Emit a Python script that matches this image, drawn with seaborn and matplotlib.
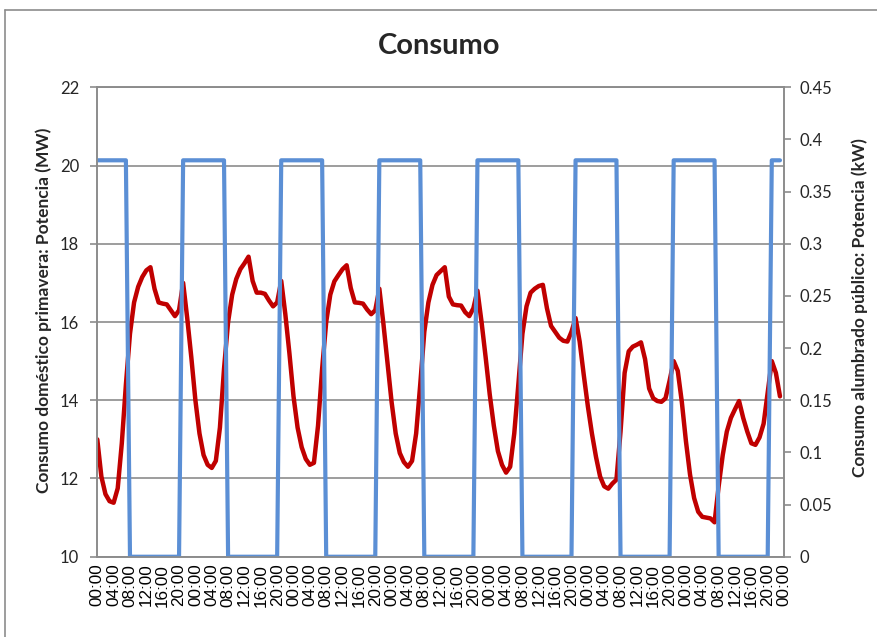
import numpy as np
import seaborn as sns
import matplotlib.pyplot as plt
from matplotlib.ticker import FuncFormatter, MultipleLocator
from matplotlib.lines import Line2D

# hourly data, 7 days (0..167)
horas = list(range(168))

# Consumo doméstico primavera (MW)
domestico = [
    13.0, 12.05, 11.6, 11.42, 11.38, 11.75, 12.9, 14.4, 15.7, 16.5, 16.9, 17.15,
    17.32, 17.4, 16.85, 16.5, 16.47, 16.45, 16.3, 16.15, 16.3, 17.0, 16.1, 15.1,
    14.0, 13.15, 12.6, 12.35, 12.27, 12.45, 13.3, 14.8, 16.0, 16.7, 17.1, 17.35,
    17.5, 17.67, 17.05, 16.75, 16.75, 16.72, 16.55, 16.4, 16.5, 17.05, 16.2, 15.2,
    14.1, 13.3, 12.8, 12.5, 12.35, 12.4, 13.35, 14.8, 16.0, 16.7, 17.04, 17.2,
    17.35, 17.45, 16.87, 16.5, 16.49, 16.47, 16.32, 16.2, 16.3, 16.85, 15.95, 14.95,
    13.95, 13.15, 12.65, 12.42, 12.3, 12.45, 13.15, 14.4, 15.75, 16.5, 16.95, 17.2,
    17.3, 17.4, 16.65, 16.45, 16.43, 16.42, 16.25, 16.15, 16.35, 16.8, 16.0, 15.1,
    14.15, 13.35, 12.7, 12.35, 12.15, 12.3, 13.15, 14.4, 15.7, 16.4, 16.75, 16.85,
    16.92, 16.95, 16.35, 15.9, 15.75, 15.6, 15.52, 15.5, 15.75, 16.1, 15.5, 14.65,
    13.85, 13.15, 12.55, 12.05, 11.8, 11.74, 11.87, 11.97, 13.2, 14.7, 15.25, 15.37,
    15.42, 15.48, 15.05, 14.3, 14.05, 13.98, 13.96, 14.05, 14.5, 15.0, 14.75, 13.95,
    12.95, 12.1, 11.5, 11.15, 11.02, 11.0, 10.98, 10.88, 11.8, 12.6, 13.2, 13.55,
    13.77, 13.98, 13.55, 13.2, 12.9, 12.86, 13.05, 13.4, 14.2, 15.0, 14.7, 14.1,
]

# Consumo alumbrado público (kW)
alumbrado = [
    0.38, 0.38, 0.38, 0.38, 0.38, 0.38, 0.38, 0.38, 0, 0, 0, 0, 0, 0, 0, 0, 0, 0, 0, 0, 0, 0.38, 0.38, 0.38,
    0.38, 0.38, 0.38, 0.38, 0.38, 0.38, 0.38, 0.38, 0, 0, 0, 0, 0, 0, 0, 0, 0, 0, 0, 0, 0, 0.38, 0.38, 0.38,
    0.38, 0.38, 0.38, 0.38, 0.38, 0.38, 0.38, 0.38, 0, 0, 0, 0, 0, 0, 0, 0, 0, 0, 0, 0, 0, 0.38, 0.38, 0.38,
    0.38, 0.38, 0.38, 0.38, 0.38, 0.38, 0.38, 0.38, 0, 0, 0, 0, 0, 0, 0, 0, 0, 0, 0, 0, 0, 0.38, 0.38, 0.38,
    0.38, 0.38, 0.38, 0.38, 0.38, 0.38, 0.38, 0.38, 0, 0, 0, 0, 0, 0, 0, 0, 0, 0, 0, 0, 0, 0.38, 0.38, 0.38,
    0.38, 0.38, 0.38, 0.38, 0.38, 0.38, 0.38, 0.38, 0, 0, 0, 0, 0, 0, 0, 0, 0, 0, 0, 0, 0, 0.38, 0.38, 0.38,
    0.38, 0.38, 0.38, 0.38, 0.38, 0.38, 0.38, 0.38, 0, 0, 0, 0, 0, 0, 0, 0, 0, 0, 0, 0, 0, 0.38, 0.38, 0.38,
]

horas_dia = ['00:00', '04:00', '08:00', '12:00', '16:00', '20:00']
etiquetas = horas_dia * 7 + ['00:00']

sns.set_style('white')
plt.rcParams['font.family'] = ['Lato', 'DejaVu Sans']

gris = '#8c8c8c'
rojo = '#C00000'
azul = '#5B8FD5'

fig = plt.figure(figsize=(8.78, 6.37), dpi=100)
ax = fig.add_axes([0.1108, 0.126, 0.7822, 0.737])

sns.lineplot(x=horas, y=domestico, ax=ax, color=rojo, linewidth=3.2,
             solid_joinstyle='round', solid_capstyle='round')
ax2 = ax.twinx()
sns.lineplot(x=horas, y=alumbrado, ax=ax2, color=azul, linewidth=3,
             solid_joinstyle='round', solid_capstyle='round')

ax.set_xlim(0, 168)
ax.set_ylim(10, 22)
ax.set_yticks(range(10, 23, 2))
ax2.set_ylim(0, 0.45)
ax2.yaxis.set_major_locator(MultipleLocator(0.05))
ax2.yaxis.set_major_formatter(FuncFormatter(lambda v, p: '{:g}'.format(round(v, 2))))

ax.set_xticks(range(0, 169, 4))
ax.set_xticklabels(etiquetas, rotation=90, fontsize=12.3,
                   family=['Liberation Sans', 'DejaVu Sans'])

ax.yaxis.grid(True, color=gris, linewidth=1.2)
ax.xaxis.grid(False)
for a in (ax, ax2):
    for s in a.spines.values():
        s.set_color(gris)
        s.set_linewidth(1.2)
ax.tick_params(axis='x', length=0, pad=5, colors='black')
ax.tick_params(axis='y', length=5, color=gris, width=1.2, labelsize=12, pad=8)
ax2.tick_params(axis='y', length=5, color=gris, width=1.2, labelsize=12, pad=6)

ax.set_xlabel('')
ax.set_ylabel('Consumo doméstico primavera: Potencia (MW)', fontsize=12.5, fontweight='bold')
ax2.set_ylabel('Consumo alumbrado público: Potencia (kW)', fontsize=12.5, fontweight='bold',
               rotation=90)
ax.yaxis.set_label_coords(-0.066, 0.525)
ax2.yaxis.set_label_coords(1.098, 0.53)

fig.text(0.5, 0.928, 'Consumo', ha='center', va='center', fontsize=21, fontweight='bold')

# chart area border
fig.add_artist(Line2D([0.0057, 1], [0.984, 0.984], transform=fig.transFigure, color=gris, lw=1.2))
fig.add_artist(Line2D([0.0057, 0.0057], [0, 0.984], transform=fig.transFigure, color=gris, lw=1.2))

fig.savefig('out.png', dpi=100)
